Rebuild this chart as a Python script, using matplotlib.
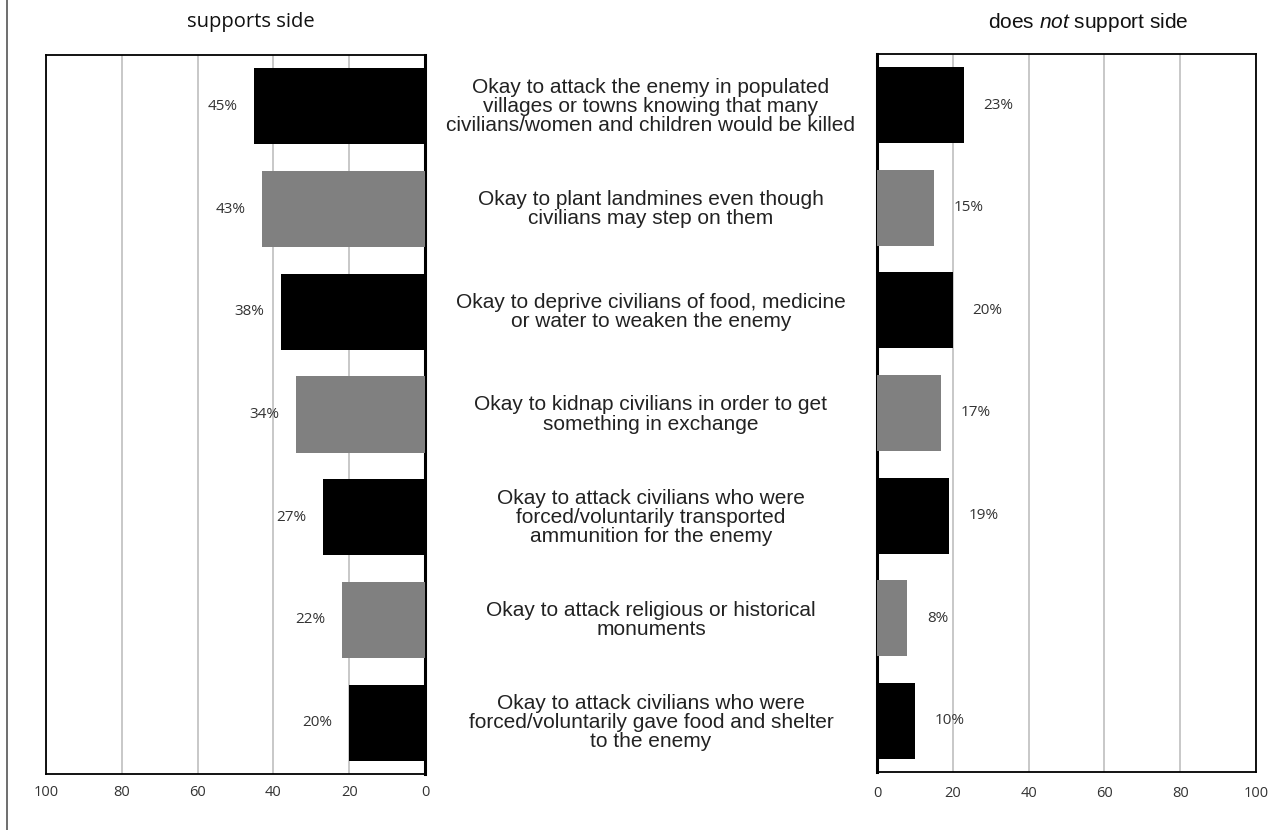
import numpy as np
import matplotlib.pyplot as plt
from matplotlib.lines import Line2D

# Survey answers, top to bottom
statements = [
    "Okay to attack the enemy in populated\nvillages or towns knowing that many\ncivilians/women and children would be killed",
    "Okay to plant landmines even though\ncivilians may step on them",
    "Okay to deprive civilians of food, medicine\nor water to weaken the enemy",
    "Okay to kidnap civilians in order to get\nsomething in exchange",
    "Okay to attack civilians who were\nforced/voluntarily transported\nammunition for the enemy",
    "Okay to attack religious or historical\nmonuments",
    "Okay to attack civilians who were\nforced/voluntarily gave food and shelter\nto the enemy",
]
supports = [45, 43, 38, 34, 27, 22, 20]
not_supports = [23, 15, 20, 17, 19, 8, 10]
bar_colors = ["#000000", "#808080"] * 4
ticks = [0, 20, 40, 60, 80, 100]

plt.rcParams["mathtext.fontset"] = "custom"
plt.rcParams["mathtext.it"] = "Liberation Sans:italic"
plt.rcParams["mathtext.rm"] = "Liberation Sans"

W, H = 1281, 830
fig = plt.figure(figsize=(W / 100, H / 100), dpi=100)

def px_axes(x0, y0, x1, y1):
    return fig.add_axes([x0 / W, 1 - y1 / H, (x1 - x0) / W, (y1 - y0) / H])

ax1 = px_axes(46, 55, 425, 774)
ax2 = px_axes(877, 54, 1256, 772)

y = np.arange(len(statements))
tick_font = dict(family="Open Sans", fontsize=10.5, color="#333333")
label_font = dict(family="Open Sans", fontsize=11, color="#333333")

for ax, vals, side in [(ax1, supports, "left"), (ax2, not_supports, "right")]:
    ax.barh(y, vals, height=0.74, color=bar_colors[:len(vals)], zorder=3)
    ax.set_xlim(0, 100)
    ax.set_ylim(len(statements) - 0.5, -0.5)
    ax.set_yticks([])
    ax.set_xticks(ticks)
    ax.set_xticklabels([str(t) for t in ticks], **tick_font)
    ax.tick_params(axis="x", length=0, pad=8 if side == "left" else 10)
    ax.grid(axis="x", color="#bfbfbf", linewidth=1.2, zorder=0)
    for s in ax.spines.values():
        s.set_linewidth(1.3)
        s.set_color("#000000")
    for yi, v in zip(y, vals):
        if side == "left":
            ax.annotate(f"{v}%", (v, yi), xytext=(-12, 0), textcoords="offset points",
                        ha="right", va="center", **label_font)
        else:
            ax.annotate(f"{v}%", (v, yi), xytext=(14, 0), textcoords="offset points",
                        ha="left", va="center", **label_font)

ax1.invert_xaxis()
ax1.spines["right"].set_linewidth(2.2)
ax2.spines["left"].set_linewidth(2.2)
ax2.spines["left"].set_zorder(2)

# Statements in the gap between the two panels
for yi, txt in zip(y, statements):
    yy = ax1.transData.transform((0, yi))[1]
    fig.text(651 / W, yy / H, txt, ha="center", va="center",
             family="Liberation Sans", fontsize=15, color="#222222",
             linespacing=1.0)

fig.text(251 / W, 1 - 22 / H, "supports side", ha="center", va="center",
         family="Open Sans", fontsize=14.5, color="#111111")
fig.text(1088 / W, 1 - 22 / H, "does $\\it{not}$ support side", ha="center", va="center",
         family="Liberation Sans", fontsize=15, color="#111111")

fig.add_artist(Line2D([7 / W, 7 / W], [0, 1], transform=fig.transFigure,
                      color="#555555", linewidth=1.2))

fig.savefig("out.png", dpi=100)
